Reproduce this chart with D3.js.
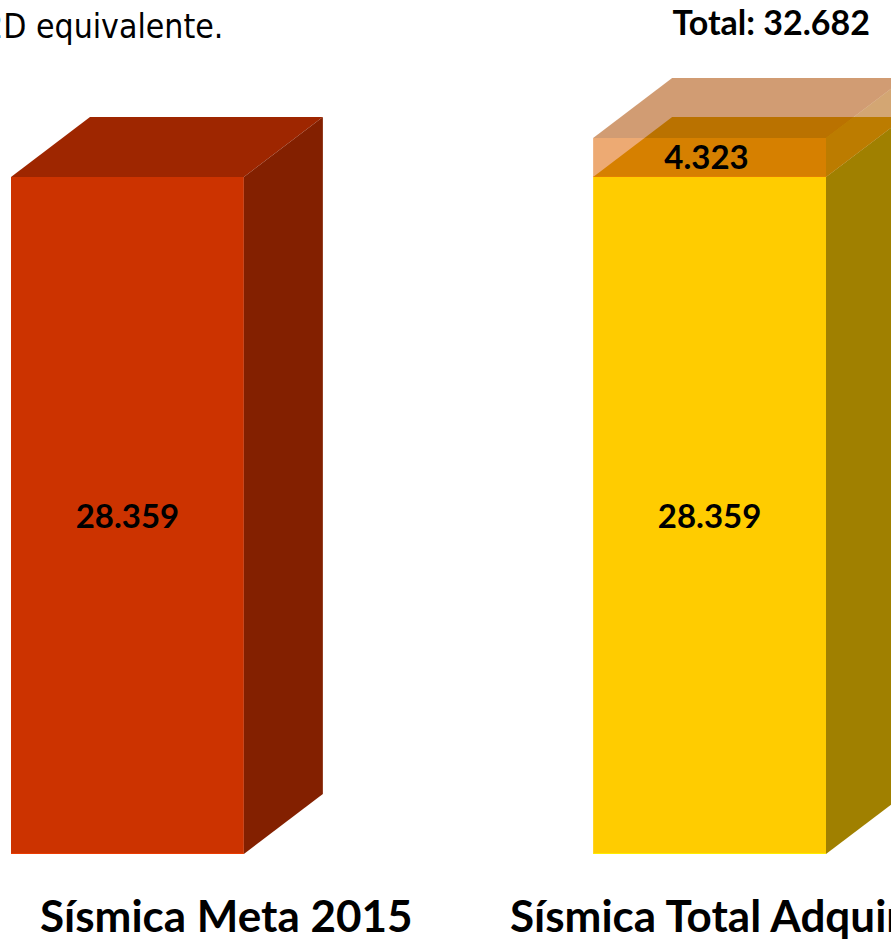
<!DOCTYPE html>
<html>
<head>
<meta charset="utf-8">
<script src="https://cdn.jsdelivr.net/npm/d3@7"></script>
<style>
  body { margin: 0; background: #fff; }
  svg { display: block; }
</style>
</head>
<body>
<svg id="chart"></svg>
<script>
/*
		 DATA
*/
var categories = ["Sísmica Meta 2015", "Sísmica Total Adquirida"];
var baseValues = [28359, 28359];     // main block of each bar
var extraValues = [0, 4323];         // stacked block on top (only second bar)
var totalValue = 32682;

var frontColors = ["#CC3300", "#FFCC00"];
var topColors = ["#9E2600", "#CCA200"];
var sideColors = ["#832000", "#A08000"];
var extraColor = {front: "#DE6400", top: "#AB4B00", side: "#AE5C00"};

/*
		 GLOBAL LAYOUT CONSTANTS
*/
var width = 891;
var height = 940;
var depth = {dx: 79, dy: -60};

// Spanish number format: 28.359
var esFormat = d3.formatLocale({decimal: ",", thousands: ".", grouping: [3], currency: ["", ""]}).format(",d");

var svg = d3.select("#chart")
    .attr("width", width)
    .attr("height", height);

var x = d3.scaleBand()
    .domain(categories)
    .range([11, 826])
    .paddingInner(0.6)
    .paddingOuter(0);

// the stacked piece on top is not drawn to the same scale as the base in the original
var y = d3.scaleLinear()
    .domain([0, 28359, totalValue])
    .range([854, 177, 138]);

function drawBox(g, x0, x1, yTop, yBot, colors, opacity) {
  var dx = depth.dx, dy = depth.dy;
  g.append("rect")
      .attr("x", x0).attr("y", yTop)
      .attr("width", x1 - x0).attr("height", yBot - yTop)
      .attr("fill", colors.front).attr("fill-opacity", opacity);
  g.append("path")
      .attr("d", "M" + x0 + "," + yTop + "L" + (x0 + dx) + "," + (yTop + dy) +
                 "L" + (x1 + dx) + "," + (yTop + dy) + "L" + x1 + "," + yTop + "Z")
      .attr("fill", colors.top).attr("fill-opacity", opacity);
  g.append("path")
      .attr("d", "M" + x1 + "," + yTop + "L" + (x1 + dx) + "," + (yTop + dy) +
                 "L" + (x1 + dx) + "," + (yBot + dy) + "L" + x1 + "," + yBot + "Z")
      .attr("fill", colors.side).attr("fill-opacity", opacity);
  // faint light line along the bottom edge
  g.append("line")
      .attr("x1", x0).attr("x2", x1).attr("y1", yBot - 0.5).attr("y2", yBot - 0.5)
      .attr("stroke", d3.color(colors.front).brighter(0.7)).attr("stroke-width", 1)
      .attr("stroke-opacity", 0.6 * opacity);
}

/*
		 DRAW BARS
*/
var bars = svg.append("g").attr("class", "bars");

categories.forEach(function(c, i) {
  var x0 = x(c), x1 = x(c) + x.bandwidth();
  var g = bars.append("g");
  drawBox(g, x0, x1, y(baseValues[i]), y(0),
          {front: frontColors[i], top: topColors[i], side: sideColors[i]}, 1);
  if (extraValues[i] > 0) {
    drawBox(g, x0, x1, y(baseValues[i] + extraValues[i]), y(baseValues[i]), extraColor, 0.55);
  }
});

/*
		 LABELS
*/
var labelFont = "Lato, 'Open Sans', sans-serif";

categories.forEach(function(c, i) {
  var cx = x(c) + x.bandwidth() / 2;
  svg.append("text")
      .attr("x", cx)
      .attr("y", (y(baseValues[i]) + y(0)) / 2 + 12)
      .attr("text-anchor", "middle")
      .style("font-family", labelFont).style("font-weight", 700).style("font-size", "33px")
      .attr("fill", "#000")
      .text(esFormat(baseValues[i]));
  if (extraValues[i] > 0) {
    svg.append("text")
        .attr("x", cx - 3)
        .attr("y", (y(baseValues[i] + extraValues[i]) + y(baseValues[i])) / 2 + 11)
        .attr("text-anchor", "middle")
        .style("font-family", labelFont).style("font-weight", 700).style("font-size", "33px")
        .attr("fill", "#000")
        .text(esFormat(extraValues[i]));
  }
});

svg.append("text")
    .attr("x", 870)
    .attr("y", 35)
    .attr("text-anchor", "end")
    .style("font-family", labelFont).style("font-weight", 700).style("font-size", "34px")
    .attr("fill", "#000")
    .text("Total: " + esFormat(totalValue));

// category names under the bars
var catLabelX = [40, 510];
svg.selectAll(".cat-label")
    .data(categories)
    .enter().append("text")
    .attr("class", "cat-label")
    .attr("x", function(d, i) { return catLabelX[i]; })
    .attr("y", 932)
    .style("font-family", labelFont).style("font-weight", 700).style("font-size", "44px")
    .attr("fill", "#000")
    .text(function(d) { return d; });

// subtitle cut off on the left edge
svg.append("text")
    .attr("x", -16)
    .attr("y", 38)
    .style("font-family", "'DejaVu Sans Condensed', 'DejaVu Sans', sans-serif")
    .style("font-size", "33.5px")
    .attr("fill", "#000")
    .text("2D equivalente.");
</script>
</body>
</html>
